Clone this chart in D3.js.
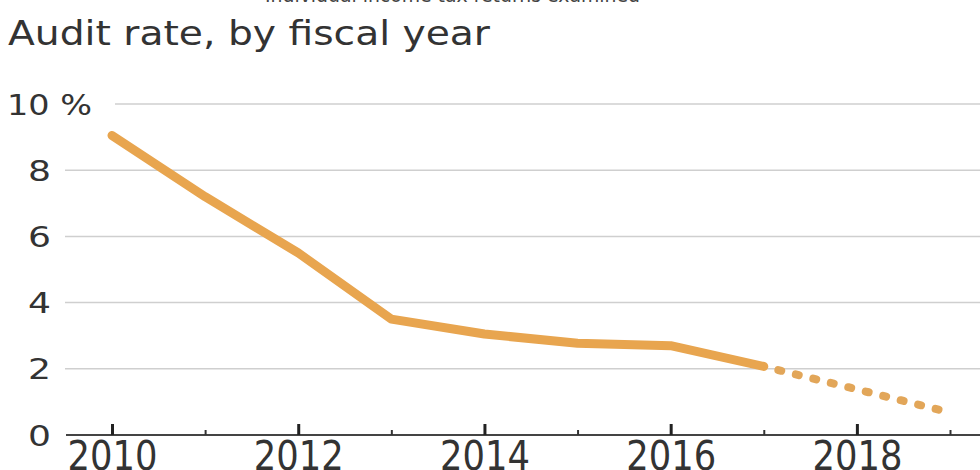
<!DOCTYPE html>
<html>
<head>
<meta charset="utf-8">
<script src="https://d3js.org/d3.v7.min.js"></script>
<style>
  body { margin: 0; background: #fff; }
  text { font-family: "DejaVu Sans", sans-serif; fill: #333; }
</style>
</head>
<body>
<svg width="980" height="470"></svg>
<script>
// data
var years = [2010, 2011, 2012, 2013, 2014, 2015, 2016, 2017];
var rates = [9.05, 7.2, 5.5, 3.5, 3.05, 2.77, 2.7, 2.07];
var projYears = [2017, 2018, 2019];
var projRates = [2.07, 1.38, 0.68];
var yTicks = [0, 2, 4, 6, 8, 10];
var majorYears = [2010, 2012, 2014, 2016, 2018];
var minorYears = [2011, 2013, 2015, 2017, 2019];

var svg = d3.select("svg");

var x = d3.scaleLinear().domain([2010, 2019]).range([112, 950]);
var y = d3.scaleLinear().domain([0, 10]).range([435, 104]);

// clipped line of text above the title
svg.append("text")
  .attr("x", 265).attr("y", 2)
  .style("font-size", "20px")
  .style("fill", "#444")
  .attr("textLength", 375)
  .attr("lengthAdjust", "spacingAndGlyphs")
  .text("Individual income tax returns examined");

svg.append("text")
  .attr("x", 8).attr("y", 45)
  .style("font-size", "33px")
  .attr("textLength", 482)
  .attr("lengthAdjust", "spacingAndGlyphs")
  .text("Audit rate, by fiscal year");

// gridlines
svg.append("g")
  .selectAll("line")
  .data(yTicks.filter(function(d) { return d > 0; }))
  .enter().append("line")
    .attr("x1", function(d) { return d == 10 ? 115 : 65; })
    .attr("x2", 980)
    .attr("y1", function(d) { return y(d); })
    .attr("y2", function(d) { return y(d); })
    .attr("stroke", "#cfcfcf")
    .attr("stroke-width", 1.5);

// y labels
var yAxis = svg.append("g")
  .attr("transform", "translate(51,0)")
  .call(d3.axisLeft(y).tickValues(yTicks).tickSize(0).tickPadding(0)
    .tickFormat(function(d) { return d == 10 ? "10 %" : d; }));
yAxis.select(".domain").remove();
yAxis.selectAll("text")
  .style("font-size", "28px")
  .attr("dy", "0.36em")
  .attr("textLength", 23)
  .attr("lengthAdjust", "spacingAndGlyphs");
yAxis.selectAll(".tick").filter(function(d) { return d == 10; })
  .select("text")
  .attr("text-anchor", "start")
  .attr("x", -44)
  .attr("textLength", 85);

// x axis line
svg.append("line")
  .attr("x1", 66).attr("x2", 980)
  .attr("y1", y(0)).attr("y2", y(0))
  .attr("stroke", "#444")
  .attr("stroke-width", 2);

var xMajor = svg.append("g")
  .attr("transform", "translate(0," + y(0) + ")")
  .call(d3.axisBottom(x).tickValues(majorYears).tickSize(-11).tickPadding(20)
    .tickFormat(d3.format("d")));
xMajor.select(".domain").remove();
xMajor.selectAll("line").attr("stroke", "#222").attr("stroke-width", 3);
xMajor.selectAll("text")
  .style("font-size", "41px")
  .attr("y", 35)
  .attr("dy", 0)
  .attr("textLength", 90)
  .attr("lengthAdjust", "spacingAndGlyphs");

var xMinor = svg.append("g")
  .attr("transform", "translate(0," + y(0) + ")")
  .call(d3.axisBottom(x).tickValues(minorYears).tickSize(-5).tickFormat(""));
xMinor.select(".domain").remove();
xMinor.selectAll("line").attr("stroke", "#333").attr("stroke-width", 2);

var line = d3.line()
  .x(function(d) { return x(d[0]); })
  .y(function(d) { return y(d[1]); });

svg.append("path")
  .datum(d3.zip(projYears, projRates))
  .attr("d", line)
  .attr("fill", "none")
  .attr("stroke", "#e2a659")
  .attr("stroke-width", 8)
  .attr("stroke-linecap", "round")
  .attr("stroke-dasharray", "3,15")
  .attr("stroke-dashoffset", -15);

svg.append("path")
  .datum(d3.zip(years, rates))
  .attr("d", line)
  .attr("fill", "none")
  .attr("stroke", "#e8a54f")
  .attr("stroke-width", 9)
  .attr("stroke-linejoin", "round")
  .attr("stroke-linecap", "round");
</script>
</body>
</html>
